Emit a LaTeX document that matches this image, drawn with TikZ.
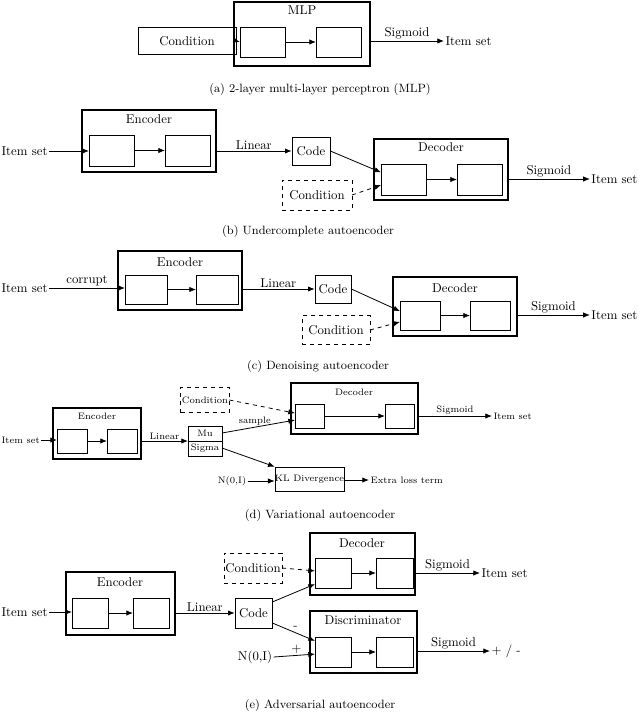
\documentclass[tikz,border=0pt]{standalone}
\usetikzlibrary{calc,arrows.meta}
\newcommand\mybox[6]{\node[#6,minimum width={(#4-#2)*0.75pt},minimum height={(#5-#3)*0.75pt}] (#1) at ({(#2+#4)/2},{(#3+#5)/2}) {};}
\begin{document}
\begin{tikzpicture}[x=0.75pt,y=-0.75pt,
 ib/.style={draw,line width=0.5pt,inner sep=0,outer sep=0},
 ob/.style={draw,line width=1.4pt,inner sep=0,outer sep=0},
 db/.style={draw,dashed,line width=0.6pt,inner sep=2pt,outer sep=0},
 ar/.style={-{Latex[length=5pt,width=4pt]},line width=0.6pt},
 dar/.style={ar,dashed},
 t/.style={inner sep=1pt,font=\fontsize{9.6}{10}\selectfont},
 ts/.style={inner sep=1pt,font=\fontsize{7}{8}\selectfont},
 captxt/.style={font=\fontsize{9}{10}\selectfont}]
\useasboundingbox (0,0) rectangle (640,727);
% (a)
\node[draw,line width=0.5pt,t,minimum width={98*0.75pt},minimum height={27*0.75pt},inner sep=0] (acond) at (187,41) {Condition};
\mybox{amlp}{234}{2}{370}{66}{ob}
\node[t] (amlpl) at (302,10) {MLP};
\mybox{a1}{240}{27}{285}{57}{ib}
\mybox{a2}{316}{27}{361}{57}{ib}
\node[t,anchor=west] (aout) at (444,41) {Item set};
\draw[ar] (acond.east) -- ($(a1.south west)!0.5!(a1.north west)$);
\draw[ar] (a1.east) -- (a2.west);
\draw[ar] (amlp.east |- aout) -- node[t,above] {Sigmoid} (aout.west);
\node[captxt] (capa) at (320,89) {(a) 2-layer multi-layer perceptron (MLP)};
% (b)
\node[t,anchor=west] (bin) at (0,151) {Item set};
\mybox{benc}{82}{110}{216}{172}{ob}
\node[t] (bencl) at (149,119) {Encoder};
\mybox{b1}{89}{135}{134}{166}{ib}
\mybox{b2}{165}{135}{210}{166}{ib}
\node[draw,line width=0.5pt,t,minimum width={38*0.75pt},minimum height={28*0.75pt},inner sep=0] (bcode) at (311,151) {Code};
\mybox{bdec}{374}{139}{508}{200}{ob}
\node[t] (bdecl) at (441,147) {Decoder};
\mybox{b3}{381}{164}{426}{195}{ib}
\mybox{b4}{457}{164}{502}{195}{ib}
\node[db,t,minimum width={70*0.75pt},minimum height={30*0.75pt}] (bcond) at (317,195) {Condition};
\node[t,anchor=east] (bout) at (639,179) {Item set};
\draw[ar] (bin.east) -- (b1.west |- bin);
\draw[ar] (b1.east) -- (b2.west);
\draw[ar] (benc.east |- bcode) -- node[t,above] {Linear} (bcode.west);
\draw[ar] (bcode.east) -- ($(b3.north west)!0.27!(b3.south west)$);
\draw[dar] (bcond.east) -- ($(b3.north west)!0.68!(b3.south west)$);
\draw[ar] (b3.east) -- (b4.west);
\draw[ar] (bdec.east |- bout) -- node[t,above] {Sigmoid} (bout.west);
\node[captxt] (capb) at (308,231) {(b) Undercomplete autoencoder};
% (c)
\node[t,anchor=west] (cin) at (0,288) {Item set};
\mybox{cenc}{118}{251}{242}{310}{ob}
\node[t] (cencl) at (180,262) {Encoder};
\mybox{c1}{125}{275}{167}{304}{ib}
\mybox{c2}{196}{275}{238}{304}{ib}
\node[draw,line width=0.5pt,t,minimum width={36*0.75pt},minimum height={28*0.75pt},inner sep=0] (ccode) at (333,289) {Code};
\mybox{cdec}{393}{277}{517}{336}{ob}
\node[t] (cdecl) at (455,288) {Decoder};
\mybox{c3}{400}{301}{440}{330}{ib}
\mybox{c4}{470}{301}{510}{330}{ib}
\node[db,t,minimum width={68*0.75pt},minimum height={29*0.75pt}] (ccond) at (336,330) {Condition};
\node[t,anchor=east] (cout) at (639,315) {Item set};
\draw[ar] (cin.east) -- node[t,above] {corrupt} (c1.west |- cin);
\draw[ar] (c1.east) -- (c2.west);
\draw[ar] (cenc.east |- ccode) -- node[t,above] {Linear} (ccode.west);
\draw[ar] (ccode.east) -- ($(c3.north west)!0.35!(c3.south west)$);
\draw[dar] (ccond.east) -- ($(c3.north west)!0.72!(c3.south west)$);
\draw[ar] (c3.east) -- (c4.west);
\draw[ar] (cdec.east |- cout) -- node[t,above] {Sigmoid} (cout.west);
\node[captxt] (capc) at (318,366) {(c) Denoising autoencoder};
% (d)
\node[ts,anchor=west] (din) at (0,440) {Item set};
\mybox{denc}{53}{408}{141}{459}{ob}
\node[ts] (dencl) at (97,416) {Encoder};
\mybox{d1}{57}{429}{87}{453}{ib}
\mybox{d2}{107}{429}{137}{453}{ib}
\mybox{dms}{188}{426}{222}{456}{ib}
\draw[line width=0.5pt] (dms.west) -- (dms.east);
\node[ts] (dmu) at (205,433) {Mu};
\node[ts] (dsig) at (205,448) {Sigma};
\mybox{ddec}{291}{383}{418}{434}{ob}
\node[ts] (ddecl) at (354,392) {Decoder};
\mybox{d3}{295}{404}{324}{428}{ib}
\mybox{d4}{385}{404}{414}{428}{ib}
\node[db,ts,minimum width={46*0.75pt},minimum height={25*0.75pt}] (dcond) at (205,400) {Condition};
\node[ts,anchor=west] (dout) at (492,416) {Item set};
\node[draw,line width=0.5pt,ts,minimum width={68*0.75pt},minimum height={24*0.75pt},inner sep=0] (dkl) at (309.5,479) {KL Divergence};
\node[ts] (dn) at (232,481) {N(0,I)};
\node[ts,anchor=west] (dextra) at (369,480) {Extra loss term};
\draw[ar] (din.east) -- (d1.west |- din);
\draw[ar] (d1.east) -- (d2.west);
\draw[ar] (denc.east |- dms) -- node[ts,above] {Linear} (dms.west);
\draw[ar] (dms.east |- dmu) -- node[ts,above,pos=0.45] {sample} ($(d3.north west)!0.67!(d3.south west)$);
\draw[dar] (dcond.east) -- ($(d3.north west)!0.38!(d3.south west)$);
\draw[ar] (d3.east) -- (d4.west);
\draw[ar] (ddec.east |- dout) -- node[ts,above] {Sigmoid} (dout.west);
\draw[ar] (dms.east |- dsig) -- (dkl.north west);
\draw[ar] (dn.east) -- (dkl.west |- dn);
\draw[ar] (dkl.east |- dextra) -- (dextra.west);
\node[captxt] (capd) at (320,515) {(d) Variational autoencoder};
% (e)
\node[t,anchor=west] (ein) at (0,612) {Item set};
\mybox{eenc}{66}{572}{175}{635}{ob}
\node[t] (eencl) at (120,582) {Encoder};
\mybox{e1}{72}{598}{108}{628}{ib}
\mybox{e2}{133}{598}{169}{628}{ib}
\node[draw,line width=0.5pt,t,minimum width={37*0.75pt},minimum height={30*0.75pt},inner sep=0] (ecode) at (253.5,613) {Code};
\mybox{edec}{310}{533}{415}{595}{ob}
\node[t] (edecl) at (362,543) {Decoder};
\mybox{e3}{315}{558}{351}{588}{ib}
\mybox{e4}{376}{558}{413}{588}{ib}
\mybox{edis}{310}{611}{417}{673}{ob}
\node[t] (edisl) at (363,620) {Discriminator};
\mybox{e5}{315}{637}{351}{667}{ib}
\mybox{e6}{376}{637}{413}{667}{ib}
\node[db,t,minimum width={58*0.75pt},minimum height={30*0.75pt}] (econd) at (253,568) {Condition};
\node[t,anchor=west] (eout) at (480,573) {Item set};
\node[t] (en) at (255,657) {N(0,I)};
\node[t,anchor=west] (epm) at (490,651) {+ / -};
\draw[ar] (ein.east) -- (e1.west |- ein);
\draw[ar] (e1.east) -- (e2.west);
\draw[ar] (eenc.east |- ecode) -- node[t,above] {Linear} (ecode.west);
\draw[dar] (econd.east) -- ($(e3.north west)!0.43!(e3.south west)$);
\draw[ar] (ecode.east |- 0,602) -- ($(e3.north west)!0.87!(e3.south west)$);
\draw[ar] (e3.east) -- (e4.west);
\draw[ar] (edec.east |- eout) -- node[t,above] {Sigmoid} (eout.west);
\draw[ar] (ecode.east |- 0,623) -- node[t,above right,pos=0.45] {-} ($(e5.north west)!0.13!(e5.south west)$);
\draw[ar] (en.east) -- node[t,above,pos=0.55] {+} ($(e5.north west)!0.57!(e5.south west)$);
\draw[ar] (e5.east) -- (e6.west);
\draw[ar] (edis.east |- epm) -- node[t,above] {Sigmoid} (epm.west);
\node[captxt] (cape) at (320,705) {(e) Adversarial autoencoder};
\end{tikzpicture}
\end{document}
